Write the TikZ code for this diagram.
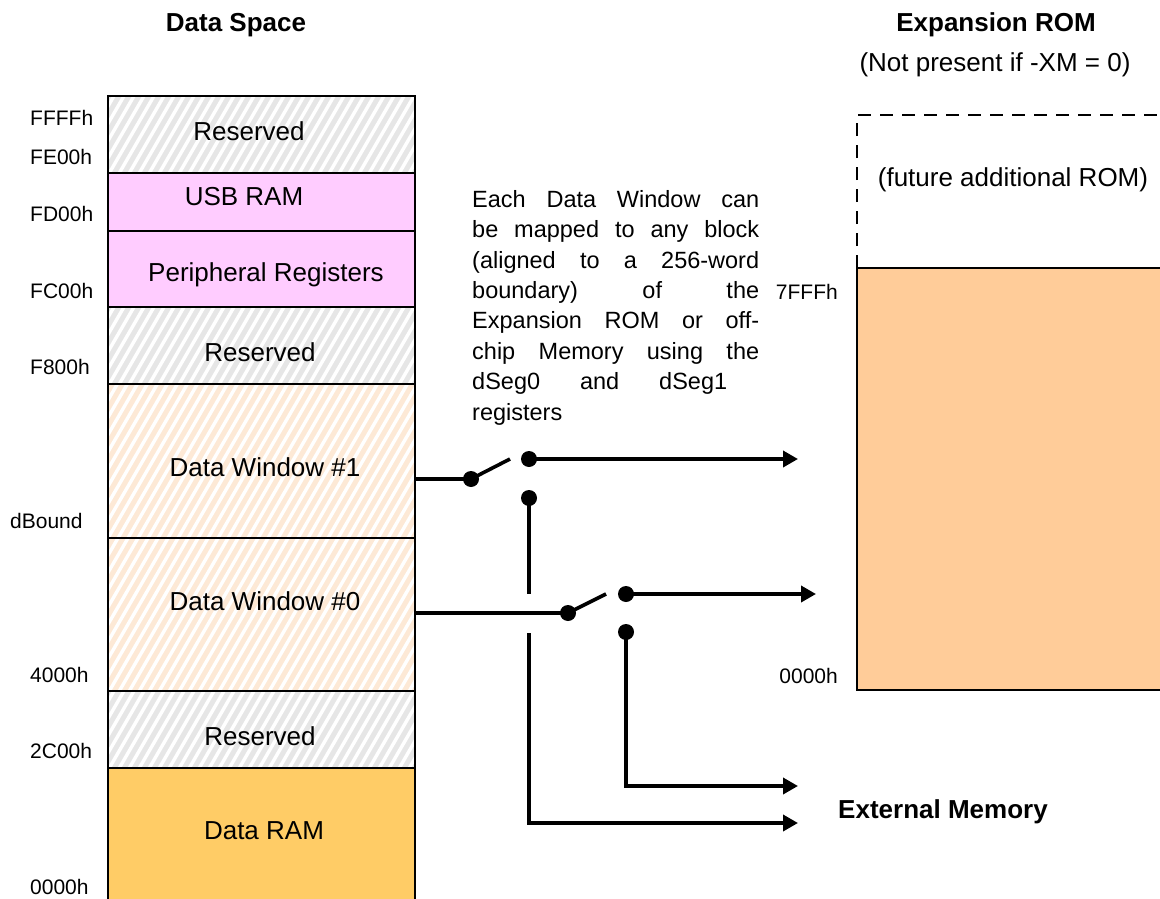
\documentclass[tikz,border=0pt]{standalone}
\usepackage{fontspec}
\setmainfont{Liberation Sans}
\usetikzlibrary{arrows.meta}

\definecolor{resgray}{HTML}{E6E6E6}
\definecolor{usbpink}{HTML}{FFCCFF}
\definecolor{winpeach}{HTML}{FDE9D6}
\definecolor{ramgold}{HTML}{FFCC66}
\definecolor{romtan}{HTML}{FFCC99}

% filled rectangle crossed by white diagonal stripes: x1, y1, x2, y2, colour
\newcommand\stripedblock[5]{%
  \fill[#5] (#1,#2) rectangle (#3,#4);
  \begin{scope}
    \clip (#1,#2) rectangle (#3,#4);
    \foreach \s in {-200,-190,...,330}
      \draw[white, line width=3.4pt] ({#1+\s},{#4+5}) -- ++({0.58*(#4-#2+10)},{-(#4-#2+10)});
  \end{scope}}

\begin{document}
\begin{tikzpicture}[x=1pt, y=-1pt,
  blk/.style={draw, line width=1.6pt, minimum width=307pt, inner sep=0pt, anchor=north west},
  big/.style={font=\fontsize{26}{31}\selectfont},
  bigbold/.style={font=\fontsize{26}{31}\selectfont\bfseries},
  addr/.style={font=\fontsize{21}{25}\selectfont, anchor=west, inner sep=0pt},
  wire/.style={line width=3.6pt},
  tip/.style={-{Triangle[length=15pt,width=16pt]}},
  dot/.style={circle, fill=black, minimum size=16pt, inner sep=0pt}]

\useasboundingbox (0,0) rectangle (1160,899);

% ---- data space column: fills ----
\stripedblock{107}{95}{414}{172}{resgray}
\fill[usbpink] (107,172) rectangle (414,306);
\stripedblock{107}{306}{414}{383}{resgray}
\stripedblock{107}{383}{414}{690}{winpeach}
\stripedblock{107}{690}{414}{767}{resgray}
\fill[ramgold] (107,767) rectangle (414,905);

% ---- data space column: block outlines ----
\node[blk, minimum height=77pt]  (res3) at (107,95)  {};
\node[blk, minimum height=58pt]  (usb)  at (107,172) {};
\node[blk, minimum height=76pt]  (per)  at (107,230) {};
\node[blk, minimum height=77pt]  (res2) at (107,306) {};
\node[blk, minimum height=154pt] (dw1)  at (107,383) {};
\node[blk, minimum height=153pt] (dw0)  at (107,537) {};
\node[blk, minimum height=77pt]  (res1) at (107,690) {};
\node[blk, minimum height=138pt] (ram)  at (107,767) {};

% ---- block names ----
\node[big] (tres3) at (249,131) {Reserved};
\node[big] (tusb)  at (244,197) {USB RAM};
\node[big] (tper)  at (266,275) {Peripheral Registers};
\node[big] (tres2) at (260,352) {Reserved};
\node[big] (tdw1)  at (265,467) {Data Window \#1};
\node[big] (tdw0)  at (265,601) {Data Window \#0};
\node[big] (tres1) at (260,736) {Reserved};
\node[big] (tram)  at (264,831) {Data RAM};

% ---- addresses ----
\node[addr] (aFFFF) at (30,118) {FFFFh};
\node[addr] (aFE00) at (30,157) {FE00h};
\node[addr] (aFD00) at (30,214) {FD00h};
\node[addr] (aFC00) at (30,291) {FC00h};
\node[addr] (aF800) at (30,367) {F800h};
\node[addr] (adb)   at (10,521) {dBound};
\node[addr] (a4000) at (30,675) {4000h};
\node[addr] (a2C00) at (30,751) {2C00h};
\node[addr] (a0000) at (30,887) {0000h};

% ---- titles ----
\node[bigbold] (tds)  at (236,25) {Data Space};
\node[bigbold] (trom) at (996,25) {Expansion ROM};
\node[big]     (tnp)  at (995,65) {(Not present if -XM = 0)};

% ---- expansion ROM ----
\draw[line width=1.6pt, dash pattern=on 13pt off 9pt] (857,268) -- (857,115) -- (1175,115);
\fill[romtan] (857,268) rectangle (1175,690);
\draw[line width=1.8pt] (1175,268) -- (857,268) -- (857,690) -- (1175,690);
\node[big] (tfut) at (1013,180) {(future additional ROM)};
\node[addr, anchor=east] (a7FFF) at (838,292) {7FFFh};
\node[addr, anchor=east] (aR0)   at (838,676) {0000h};

% ---- explanation ----
\node[anchor=north west, inner sep=0pt, align=left,
      font=\fontsize{23.5}{30.4}\selectfont] (note) at (472,190)
  {\makebox[287pt][s]{Each Data Window can}\\
   \makebox[287pt][s]{be mapped to any block}\\
   \makebox[287pt][s]{(aligned to a 256-word}\\
   \makebox[287pt][s]{boundary) of the}\\
   \makebox[287pt][s]{Expansion ROM or off-}\\
   \makebox[287pt][s]{chip Memory using the}\\
   \makebox[255pt][s]{dSeg0 and dSeg1}\\
   registers};

\node[bigbold] (text) at (943,812) {External Memory};

% ---- switches ----
\node[dot] (piv1) at (471,479) {};
\coordinate (lev1) at (510,459);
\node[dot] (top1) at (529,459) {};
\node[dot] (bot1) at (529,498) {};
\node[dot] (piv2) at (568,613) {};
\coordinate (lev2) at (606,594);
\node[dot] (top2) at (626,594) {};
\node[dot] (bot2) at (626,632) {};

\coordinate (romA) at (798,459);
\coordinate (romB) at (816,594);
\coordinate (extB) at (798,786);
\coordinate (extA) at (798,823);
\coordinate (gapA) at (529,594);
\coordinate (gapB) at (529,633);

\draw[wire] (dw1.east |- piv1) -- (piv1.center) -- (lev1);
\draw[wire, tip] (top1.center) -- (romA);
\draw[wire] (bot1.center) -- (gapA);
\draw[wire, tip] (gapB) |- (extA);

\draw[wire] (dw0.east |- piv2) -- (piv2.center) -- (lev2);
\draw[wire, tip] (top2.center) -- (romB);
\draw[wire, tip] (bot2.center) |- (extB);

\end{tikzpicture}
\end{document}
